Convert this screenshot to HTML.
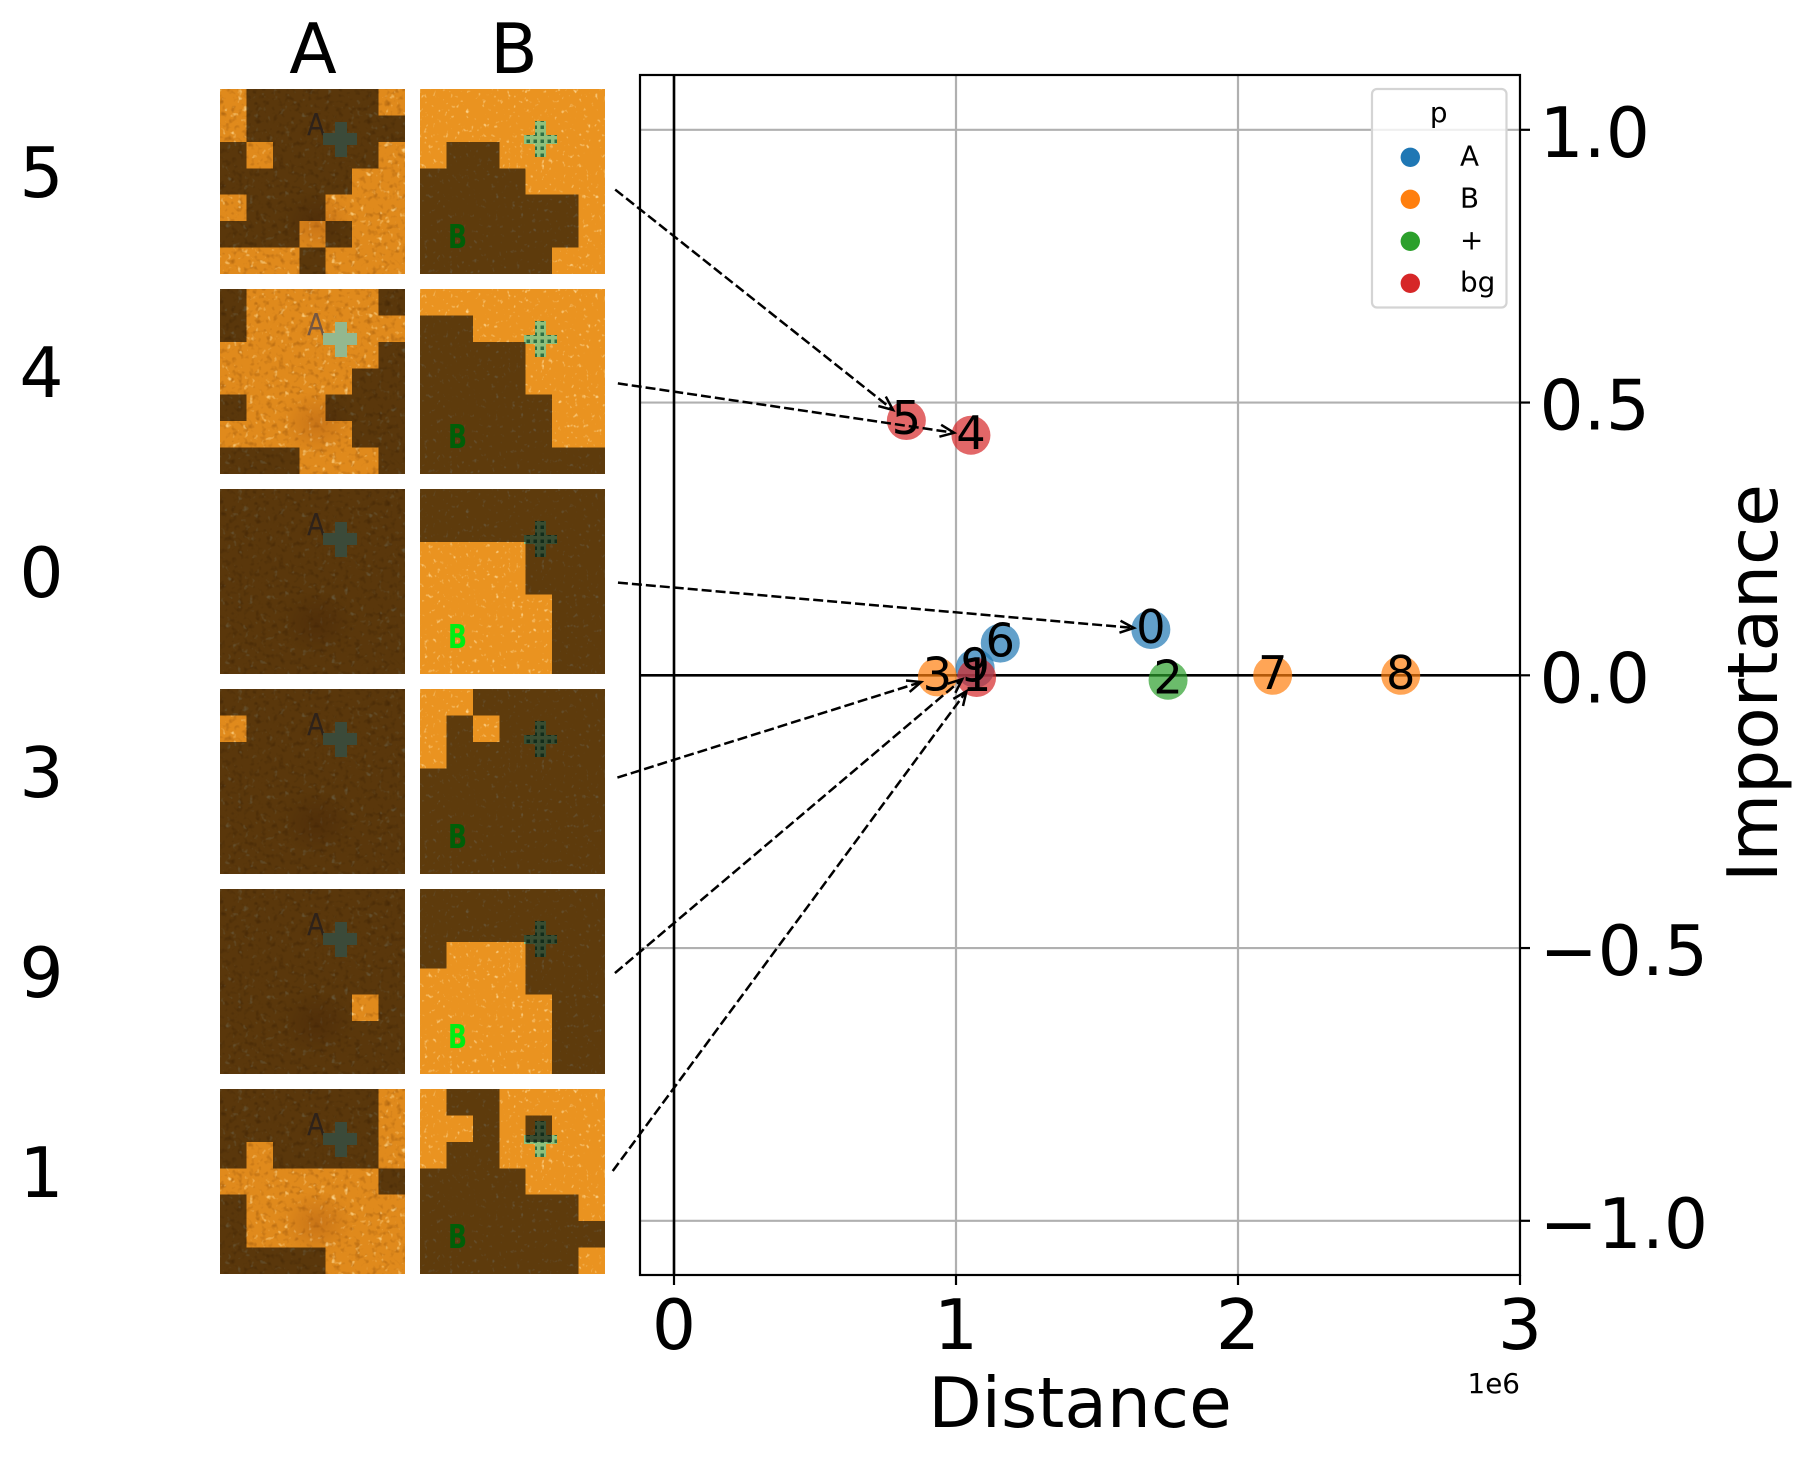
<!DOCTYPE html>
<html lang="en">
<head>
<meta charset="utf-8">
<title>Distance vs importance with patch masks</title>
<style>
  html, body { margin: 0; padding: 0; background: #fff; }
  svg { display: block; font-family: "DejaVu Sans", "Liberation Sans", sans-serif; }
</style>
</head>
<body>
<svg id="figure" xmlns="http://www.w3.org/2000/svg" width="1806" height="1460" viewBox="0 0 1806 1460">
  <defs>
    <filter id="peel-a" x="0" y="0" width="100%" height="100%" color-interpolation-filters="sRGB">
      <feTurbulence type="fractalNoise" baseFrequency="0.17" numOctaves="2" seed="4" result="n"/>
      <feColorMatrix in="n" type="matrix" values="0 0 0 0 1  0 0 0 0 .86  0 0 0 0 .58  3.6 0 0 0 -2.3" result="spots"/>
      <feColorMatrix in="n" type="matrix" values="0 0 0 0 .6  0 0 0 0 .33  0 0 0 0 .04  0 1.6 0 0 -.85" result="shade"/>
      <feMerge><feMergeNode in="SourceGraphic"/><feMergeNode in="shade"/><feMergeNode in="spots"/></feMerge>
    </filter>
    <filter id="peel-b" x="0" y="0" width="100%" height="100%" color-interpolation-filters="sRGB">
      <feTurbulence type="fractalNoise" baseFrequency="0.24 0.2" numOctaves="2" seed="11" result="n"/>
      <feColorMatrix in="n" type="matrix" values="0 0 0 0 1  0 0 0 0 .88  0 0 0 0 .64  3.6 0 0 0 -2.35" result="spots"/>
      <feMerge><feMergeNode in="SourceGraphic"/><feMergeNode in="spots"/></feMerge>
    </filter>
    <radialGradient id="blotch"><stop offset="0" stop-color="#a4520e" stop-opacity=".38"/><stop offset="1" stop-color="#a4520e" stop-opacity="0"/></radialGradient>
    <pattern id="checker" width="7" height="7" patternUnits="userSpaceOnUse">
      <rect width="7" height="7" fill="#8fc07c"/>
      <rect x="1.500" y="1.500" width="3.500" height="3.500" fill="#2f6f44"/>
    </pattern>
    <clipPath id="plot-clip"><rect x="640" y="75" width="880" height="1200"/></clipPath>
  </defs>

  <rect x="0" y="0" width="1806" height="1460" fill="#fff"/>

  <text x="313" y="73" font-size="69.44" text-anchor="middle">A</text>
  <text x="514" y="73" font-size="69.44" text-anchor="middle">B</text>

  <g id="panels"></g>

  <g id="grid" clip-path="url(#plot-clip)"></g>
  <g id="zero-lines" clip-path="url(#plot-clip)"></g>
  <g id="points"></g>
  <g id="arrows"></g>
  <g id="point-labels"></g>

  <rect x="640" y="75" width="880" height="1200" fill="none" stroke="#000" stroke-width="2.2"/>
  <g id="ticks"></g>

  <text x="1080" y="1427" font-size="69.44" text-anchor="middle">Distance</text>
  <text x="1520" y="1393" font-size="27.8" text-anchor="end">1e6</text>
  <text transform="translate(1777 683) rotate(-90)" font-size="69.44" text-anchor="middle">Importance</text>

  <g id="legend">
    <rect x="1372" y="89" width="134.500" height="218.500" rx="5" ry="5" fill="#fff" fill-opacity=".8" stroke="#d4d4d4" stroke-width="2.2"/>
    <text x="1438.700" y="122" font-size="27.8" text-anchor="middle">p</text>
  </g>
</svg>

<script>
// ----- chart data -----
const pointIds = ['0', '2', '3', '4', '5', '6', '7', '8', '9', '1'];
const distances = [1.691, 1.752, 0.934, 1.053, 0.824, 1.157, 2.123, 2.577, 1.068, 1.073];
const importances = [0.084, -0.009, -0.003, 0.440, 0.467, 0.059, 0.000, 0.000, 0.013, -0.004];
const pointGroups = ['A', '+', 'B', 'bg', 'bg', 'A', 'B', 'B', 'A', 'bg'];
const legendGroups = ['A', 'B', '+', 'bg'];
const legendColors = ['#1f77b4', '#ff7f0e', '#2ca02c', '#d62728'];
const xTicks = [0, 1, 2, 3];
const yTicks = [-1.0, -0.5, 0.0, 0.5, 1.0];
const rowIds = ['5', '4', '0', '3', '9', '1'];

// Patch masks: 1 = darkened cell, 0 = visible cell
const masksA = [
  ['0111110', '0111111', '1011110', '1111100', '0111000', '1110100', '0001000'],
  ['1000001', '1000000', '0000001', '0000011', '1000111', '0000011', '1110001'],
  ['1111111', '1111111', '1111111', '1111111', '1111111', '1111111', '1111111'],
  ['1111111', '0111111', '1111111', '1111111', '1111111', '1111111', '1111111'],
  ['1111111', '1111111', '1111111', '1111111', '1111101', '1111111', '1111111'],
  ['1111110', '1111110', '1011110', '0000001', '1000000', '1000000', '1111000']
];
const masksB = [
  ['0000000', '0000000', '0110000', '1111000', '1111110', '1111110', '1111100'],
  ['0000000', '1100000', '1111000', '1111000', '1111100', '1111100', '1111111'],
  ['1111111', '1111111', '0000111', '0000111', '0000011', '0000011', '0000011'],
  ['0011111', '0101111', '0111111', '1111111', '1111111', '1111111', '1111111'],
  ['1111111', '1111111', '1000111', '0000111', '0000011', '0000011', '0000011'],
  ['0110000', '0010100', '0110000', '1111000', '1111110', '1111111', '1111110']
];

// ----- axis functions -----
function xScale(v) { return 674 + 282 * v; }
function yScale(v) { return 675.3 - 545.5 * v; }
function groupColor(g) { return legendColors[legendGroups.indexOf(g)]; }
function fmtY(v) { return (v < 0 ? '\u2212' : '') + Math.abs(v).toFixed(1); }

const NS = 'http://www.w3.org/2000/svg';
function mk(parent, tag, attrs, txt) {
  const el = document.createElementNS(NS, tag);
  for (const k in attrs) el.setAttribute(k, attrs[k]);
  if (txt !== undefined) el.textContent = txt;
  parent.appendChild(el);
  return el;
}
const PANEL = 185, CELL = 185 / 7;
const colX = [220, 420];
const rowY = [89, 289, 489, 689, 889, 1089];

// ----- image panels -----
function drawSceneA(g) {
  let el = mk(g, 'rect', { x: 0, y: 0, width: PANEL, height: PANEL, fill: '#e08a1c', filter: 'url(#peel-a)' });
  
  
  el = mk(g, 'ellipse', { cx: 97, cy: 134, rx: 36, ry: 32, fill: 'url(#blotch)' });
  
  
  el = mk(g, 'text', { x: 87, y: 46, 'font-size': 30, fill: '#6e5344', 'fill-opacity': .95, textLength: 18, lengthAdjust: 'spacingAndGlyphs' }, 'A');
  
  
  el = mk(g, 'path', { d: 'M115 33h12v11h10v12h-10v12h-12v-12h-12v-12h12z', fill: '#93b88f' });
  
  
}
function drawSceneB(g) {
  let el = mk(g, 'rect', { x: 0, y: 0, width: PANEL, height: PANEL, fill: '#ea9320', filter: 'url(#peel-b)' });
  
  
  el = mk(g, 'text', { x: 28, y: 159, 'font-size': 33, 'font-weight': 'bold', fill: '#00ee14', textLength: 19, lengthAdjust: 'spacingAndGlyphs' }, 'B');
  
  
  el = mk(g, 'path', { d: 'M115 32h11v14h11v9h-11v13h-11v-13h-11v-9h11z', fill: 'url(#checker)' });
  
  
}
function drawMask(g, mask) {
  mask.forEach(function (row, r) {
    for (let c = 0; c < row.length; c++) {
      if (row[c] === '1') {
        const cell = mk(g, 'rect', {
          x: c * CELL, y: r * CELL, width: CELL, height: CELL,
          fill: '#000', 'fill-opacity': .6, 'shape-rendering': 'crispEdges'
        });
        
        
      }
    }
  });
}
const panelsG = document.getElementById('panels');
rowIds.forEach(function (id, i) {
  const label = mk(panelsG, 'text', { x: 41.500, y: rowY[i] + 108, 'font-size': 69.44, 'text-anchor': 'middle' }, id);
  
  

  const a = mk(panelsG, 'g', { transform: 'translate(' + colX[0] + ' ' + rowY[i] + ')' });
  
  
  drawSceneA(a);
  drawMask(a, masksA[i]);

  const b = mk(panelsG, 'g', { transform: 'translate(' + colX[1] + ' ' + rowY[i] + ')' });
  
  
  drawSceneB(b);
  drawMask(b, masksB[i]);
});

// ----- grid, ticks -----
const gridG = document.getElementById('grid');
const ticksG = document.getElementById('ticks');
xTicks.forEach(function (v) {
  const x = xScale(v);
  const gl = mk(gridG, 'line', { x1: x, x2: x, y1: 75, y2: 1275, stroke: '#b0b0b0', 'stroke-width': 2.2 });
  
  
  const t = mk(ticksG, 'line', { x1: x, x2: x, y1: 1275, y2: 1285, stroke: '#000', 'stroke-width': 2.2 });
  
  
  const l = mk(ticksG, 'text', { x: x, y: 1349, 'font-size': 69.44, 'text-anchor': 'middle' }, String(v));
  
  
});
yTicks.forEach(function (v) {
  const y = yScale(v);
  const gl = mk(gridG, 'line', { x1: 640, x2: 1520, y1: y, y2: y, stroke: '#b0b0b0', 'stroke-width': 2.2 });
  
  
  const t = mk(ticksG, 'line', { x1: 1520, x2: 1530, y1: y, y2: y, stroke: '#000', 'stroke-width': 2.2 });
  
  
  const l = mk(ticksG, 'text', { x: 1539.500, y: y + 27, 'font-size': 69.44 }, fmtY(v));
  
  
});

// ----- zero lines -----
const zeroG = document.getElementById('zero-lines');
const zh = mk(zeroG, 'line', { x1: 640, x2: 1520, y1: yScale(0), y2: yScale(0), stroke: '#000', 'stroke-width': 2.6 });


const zv = mk(zeroG, 'line', { x1: xScale(0), x2: xScale(0), y1: 75, y2: 1275, stroke: '#000', 'stroke-width': 2.6 });



// ----- points and labels -----
const pointsG = document.getElementById('points');
const labelsG = document.getElementById('point-labels');
pointIds.forEach(function (id, i) {
  const cx = xScale(distances[i]), cy = yScale(importances[i]);
  const dot = mk(pointsG, 'circle', { cx: cx, cy: cy, r: 19.500, fill: groupColor(pointGroups[i]), 'fill-opacity': .7 });
  
  
  const lab = mk(labelsG, 'text', { x: cx, y: cy + 13.500, 'font-size': 46.3, 'text-anchor': 'middle' }, id);
  
  
});

// ----- arrows from panel rows to points -----
const arrowsG = document.getElementById('arrows');
rowIds.forEach(function (id, i) {
  const k = pointIds.indexOf(id);
  const sx = 605, sy = rowY[i] + PANEL / 2;
  const px = xScale(distances[k]), py = yScale(importances[k]);
  const dx = px - sx, dy = py - sy, len = Math.hypot(dx, dy);
  const ux = dx / len, uy = dy / len;
  const x1 = sx + ux * 13, y1 = sy + uy * 13;
  const x2 = px - ux * 17, y2 = py - uy * 17;
  const line = mk(arrowsG, 'line', { x1: x1, y1: y1, x2: x2, y2: y2, stroke: '#000', 'stroke-width': 2.5, 'stroke-dasharray': '10 4' });
  
  
  const hl = 14, hw = 6;
  const pts = [
    [x2 - ux * hl - uy * hw, y2 - uy * hl + ux * hw],
    [x2, y2],
    [x2 - ux * hl + uy * hw, y2 - uy * hl - ux * hw]
  ].map(function (p) { return p.join(','); }).join(' ');
  const head = mk(arrowsG, 'polyline', { points: pts, fill: 'none', stroke: '#000', 'stroke-width': 2.5 });
  
  
});

// ----- legend -----
const legendG = document.getElementById('legend');
legendGroups.forEach(function (g, i) {
  const y = 157.300 + 42 * i;
  const m = mk(legendG, 'circle', { cx: 1410.300, cy: y, r: 9.700, fill: legendColors[i] });
  
  
  const t = mk(legendG, 'text', { x: 1460, y: y + 8, 'font-size': 27.8 }, g);
  
  
});
</script>
</body>
</html>
